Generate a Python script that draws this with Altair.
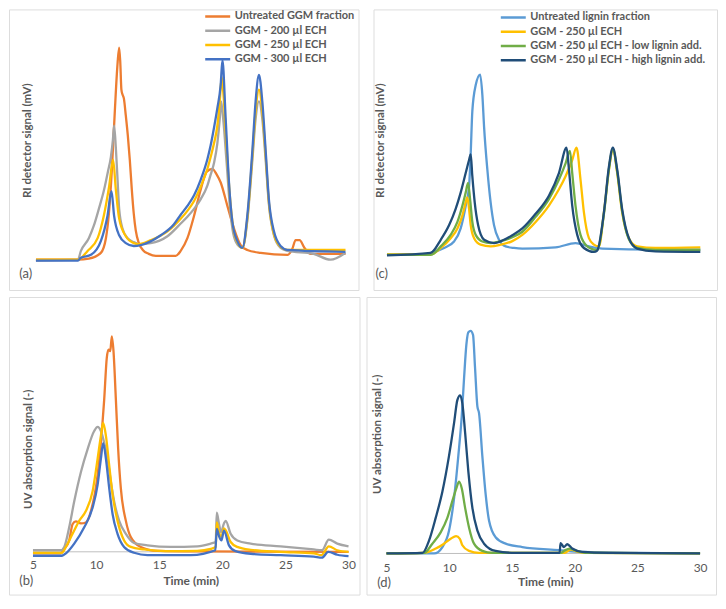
import altair as alt
import pandas as pd

FONT = "Lato"
TXT = "#595959"
BORDER = "#D9D9D9"
AXIS_LINE = "#BFBFBF"

# ---------------- Panel (a): RI signal, GGM series ----------------
a_names = ["Untreated GGM fraction", "GGM - 200 µl ECH", "GGM - 250 µl ECH", "GGM - 300 µl ECH"]
a_colors = ["#ED7D31", "#A5A5A5", "#FFC000", "#4472C4"]

a_orange_t = [5.0, 8.39, 9.27, 10.24, 10.65, 10.89, 11.13, 11.37, 11.57, 11.72, 11.81, 11.90, 11.99, 12.10, 12.26,
              12.42, 12.58, 12.74, 12.90, 13.06, 13.31, 13.63, 14.11, 14.68, 16.29, 16.69, 17.23, 17.77, 18.31, 18.79,
              19.25, 19.60, 19.92, 20.46, 20.99, 21.53, 22.07, 23.15, 25.32, 25.70, 25.97, 26.29, 26.69, 27.18, 30.0]
a_orange_v = [0.5, 0.5, 1, 4, 11.5, 24, 46.5, 76.5, 99, 109, 101.5, 87.5, 85, 83, 74,
              64, 51.5, 36.5, 24, 15.5, 9, 5.5, 3.5, 2.5, 2.5, 5, 11.5, 23, 36.5, 45.5,
              47, 44, 40, 28, 16.5, 8, 5.5, 4, 3, 6, 10.5, 10.5, 6.5, 3.5, 3.5]

a_gray_t = [5.0, 8.39, 8.63, 9.27, 9.68, 10.08, 10.51, 10.81, 11.05, 11.21, 11.31, 11.45, 11.59, 11.72, 11.99,
            12.40, 12.90, 13.31, 14.27, 15.62, 16.69, 17.23, 17.77, 18.31, 18.85, 19.11, 19.38, 19.65, 19.85, 19.95,
            20.13, 20.40, 20.66, 20.93, 21.30, 21.67, 22.07, 22.48, 22.74, 23.01, 23.28, 23.55, 23.81, 24.22, 24.76,
            25.30, 27.42, 28.79, 30.0]
a_gray_v = [0, 0.5, 5, 11.5, 18, 26.5, 36.5, 45.5, 53, 61.5, 69, 58, 41.5, 26.5, 16.5,
            11.5, 9.5, 8.5, 9, 12.5, 19, 22.5, 26.5, 31.5, 38.5, 44, 50, 60, 73, 81.5,
            72, 50, 28, 14, 8, 6.5, 20.5, 51.5, 72.5, 81.5, 72.5, 51.5, 29, 13, 6.5,
            5, 3.5, 0.5, 4]

a_yellow_t = [5.0, 8.39, 9.17, 9.98, 10.48, 10.91, 11.23, 11.45, 11.72, 12.26, 12.90, 13.31, 14.27, 15.62, 16.69,
              17.23, 17.77, 18.31, 18.85, 19.11, 19.38, 19.65, 19.85, 20.0, 20.13, 20.40, 20.66, 20.93, 21.30, 21.67,
              22.07, 22.48, 22.74, 23.01, 23.28, 23.55, 23.81, 24.22, 24.76, 25.30, 30.0]
a_yellow_v = [0.5, 0.5, 5, 11.5, 23, 38, 51.5, 36.5, 21.5, 12.5, 9, 8.5, 10.5, 15, 21.5,
              25.5, 30.5, 38, 47, 53, 60, 69, 82, 94, 86, 58, 33, 17, 9, 6.5,
              21.5, 54, 76.5, 87.5, 76.5, 54, 30, 13.5, 7, 5.5, 5.5]

a_blue_t = [5.0, 8.39, 8.63, 9.44, 10.24, 10.78, 11.10, 11.31, 11.72, 12.26, 12.90, 13.47, 15.08, 16.13, 16.69,
            17.23, 17.77, 18.31, 18.85, 19.11, 19.38, 19.65, 19.92, 20.06, 20.32, 20.59, 20.86, 21.27, 21.67, 22.07,
            22.48, 22.74, 23.01, 23.28, 23.55, 23.81, 24.22, 24.76, 25.30, 30.0]
a_blue_v = [0, 0, 1.5, 3, 10, 23, 35.5, 23, 13, 9, 7.5, 8, 13, 18.5, 23.5,
            28, 33.5, 41.5, 52, 59, 68, 78, 90, 102.5, 73, 40, 20, 10, 6.5, 23,
            56.5, 81.5, 95, 81.5, 56.5, 31.5, 15, 7.5, 5.5, 4.5]

# ---------------- Panel (b): UV signal, GGM series ----------------
b_orange_t = [5.0, 7.2, 7.48, 7.87, 8.14, 8.40, 8.80, 9.19, 9.59, 10.12, 10.38, 10.64, 10.85, 10.99, 11.12,
              11.25, 11.38, 11.57, 11.75, 11.96, 12.36, 12.75, 13.54, 14.87, 18.29, 30.0]
b_orange_v = [-0.8, -0.8, 1.6, 5.8, 14.2, 15.5, 14.5, 15, 20.8, 39.2, 55.8, 77.5, 99.2, 103.3, 102.5,
              110, 102.5, 77.5, 52.5, 32.5, 15.8, 7.5, 2.5, 0.5, 0.2, 0]

b_gray_t = [5.0, 7.2, 7.48, 7.87, 8.27, 8.80, 9.33, 9.85, 10.12, 10.38, 10.64, 10.91, 11.17, 11.43, 11.83,
            12.36, 13.01, 14.07, 15.92, 18.03, 19.08, 19.48, 19.56, 19.74, 19.90, 20.13, 20.27, 20.66, 21.19, 22.25,
            24.62, 27.25, 27.9, 28.44, 29.11, 30.0]
b_gray_v = [0.8, 0.8, 2.5, 12.5, 25.8, 40.8, 52.5, 61.7, 63.8, 61.7, 55.8, 47.5, 35.8, 25.8, 15.8,
            9.2, 4.5, 3.3, 2.5, 2.8, 4.2, 5.0, 20, 14.2, 10, 14.5, 15.8, 9.2, 5.8, 4.2,
            2.8, 1.2, 0.8, 6.2, 4.2, 2.8]

b_yellow_t = [5.0, 7.3, 7.61, 8.14, 8.66, 9.19, 9.72, 10.12, 10.38, 10.56, 10.78, 11.04, 11.31, 11.70, 12.22,
              12.75, 13.81, 15.5, 18.0, 19.08, 19.48, 19.56, 19.74, 19.93, 20.13, 20.27, 20.66, 21.19, 22.25, 24.62,
              27.25, 27.85, 28.44, 29.11, 30.0]
b_yellow_v = [-0.5, -0.5, 2.5, 9.2, 15.8, 20.8, 30.8, 47.5, 59.2, 65.8, 59.2, 44.2, 29.2, 15.8, 5.8,
              2.5, 1.2, 0.3, 0.5, 1.5, 2.5, 15, 10, 7.5, 12, 11, 5, 2.5, 1, 0,
              -0.8, -1.7, 2.8, 0.8, 0]

b_blue_t = [5.0, 7.3, 7.61, 8.27, 9.06, 9.72, 10.12, 10.38, 10.56, 10.78, 11.04, 11.31, 11.70, 12.22, 13.01,
            14.07, 17.5, 19.45, 19.56, 19.74, 19.93, 20.13, 20.53, 21.0, 22.25, 24.62, 27.25, 27.9, 28.4, 29.11, 30.0]
b_blue_v = [-2, -2, -0.8, 4.2, 12.5, 22.5, 34.2, 47.5, 55.5, 47.5, 32.5, 19.2, 9.2, 2.5, -0.5,
            -1.7, -1.7, 0.8, 11.7, 8, 5.8, 10.8, 3.3, 0.5, -1, -1.7, -2.5, -3, 0, -1.5, -2.2]

# ---------------- Panel (c): RI signal, lignin series ----------------
c_names = ["Untreated lignin fraction", "GGM - 250 µl ECH", "GGM - 250 µl ECH - low lignin add.",
           "GGM - 250 µl ECH - high lignin add."]
c_colors = ["#5B9BD5", "#FFC000", "#70AD47", "#204D78"]

c_lblue_t = [5.0, 8.0, 8.49, 9.56, 10.35, 10.88, 11.28, 11.55, 11.68, 11.81, 12.08, 12.43, 12.61, 12.75, 13.01,
             13.27, 13.54, 13.94, 14.47, 15.14, 15.80, 18.45, 20.04, 21.11, 22.17, 26.42, 30.0]
c_lblue_v = [0.2, 0.3, 1, 3.5, 6.8, 13.5, 25, 35, 51.8, 73.5, 86.8, 92.2, 81.8, 65.2, 43.5,
             26.8, 15.2, 7.7, 4.3, 3.5, 3.2, 3.8, 6.0, 4.3, 3.2, 2.7, 2.7]

c_yellow_t = [5.0, 8.49, 9.29, 10.08, 10.62, 11.02, 11.28, 11.41, 11.55, 11.68, 11.95, 12.47, 13.27, 14.07, 15.0,
              15.80, 16.86, 17.92, 18.72, 19.25, 19.78, 20.12, 20.44, 20.71, 21.11, 21.51, 21.91, 22.31, 22.71, 23.02,
              23.37, 23.76, 24.30, 24.96, 26.42, 30.0]
c_yellow_v = [0.2, 0.2, 3.5, 8.5, 13.5, 20.2, 26.8, 29.4, 23.5, 15.2, 8.5, 5.2, 4.3, 5.2, 7,
              10.2, 16.8, 25.2, 33.5, 40.2, 48.5, 54.8, 38.5, 21.8, 8.5, 5.2, 4.3, 21.8, 43.5, 54.3,
              41.8, 21.8, 8.5, 4.3, 3.5, 3.8]

c_green_t = [5.0, 8.49, 9.29, 10.08, 10.62, 11.02, 11.28, 11.47, 11.63, 11.81, 12.08, 12.61, 13.27, 14.07, 15.0,
             15.80, 16.86, 17.92, 18.72, 19.25, 19.60, 19.78, 20.04, 20.44, 20.98, 21.51, 21.77, 22.31, 22.71, 23.02,
             23.37, 23.76, 24.30, 24.96, 26.42, 30.0]
c_green_v = [0, 0, 4.3, 10.2, 16.8, 25.2, 31.8, 36.8, 28.5, 16.8, 10.2, 6.8, 6.0, 7.0, 9.0,
             11.8, 19.4, 28.5, 38.5, 46.8, 53.2, 41.8, 25.2, 10.2, 4.3, 2.7, 2.5, 21, 44, 54,
             42.5, 22.5, 8, 3.5, 2.5, 2.5]

c_dblue_t = [5.0, 8.49, 9.29, 9.96, 10.48, 10.88, 11.28, 11.55, 11.68, 11.81, 12.0, 12.27, 12.75, 13.54, 14.34,
             15.0, 15.80, 16.86, 17.92, 18.72, 19.33, 19.52, 19.78, 20.18, 20.71, 21.51, 21.77, 22.31, 22.71, 23.02,
             23.37, 23.76, 24.30, 24.96, 26.42, 30.0]
c_dblue_v = [-0.3, 1, 7.7, 15.2, 23.5, 31.8, 41.8, 48.5, 51.3, 40.2, 26.8, 15.2, 7.7, 6.0, 7.7,
             10, 13.5, 21, 30.2, 41.8, 54.8, 43.5, 25.2, 10.2, 3.5, 1.5, 2.2, 21.8, 45.2, 54.8,
             43.5, 23.5, 8.5, 3.2, 1.8, 1.5]

# ---------------- Panel (d): UV signal, lignin series ----------------
d_lblue_t = [5.0, 8.8, 9.46, 9.99, 10.39, 10.73, 11.0, 11.19, 11.37, 11.53, 11.71, 11.90, 12.06, 12.25, 12.38,
             12.64, 12.91, 13.18, 13.70, 14.50, 15.83, 18.75, 20.5, 30.0]
d_lblue_v = [0, 0, 3.3, 11.7, 28.3, 50, 70, 90, 106.7, 113, 113.7, 111.7, 95, 75, 71.7,
             50, 30, 16.7, 8.3, 5, 3.3, 1.7, 0.8, 0]

d_yellow_t = [5.0, 8.0, 8.93, 9.59, 10.12, 10.55, 10.85, 11.05, 11.58, 12.38, 19.2, 19.7, 20.2, 21.0, 30.0]
d_yellow_v = [0, 0.3, 2.5, 5, 7.5, 8.9, 7.5, 4.2, 1.3, 0.3, 0.3, 2, 1, 0.3, 0]

d_green_t = [5.0, 8.0, 8.66, 9.32, 9.86, 10.25, 10.57, 10.79, 11.0, 11.27, 11.58, 11.98, 12.64, 13.44, 18.9,
             19.2, 19.6, 20.0, 21.0, 30.0]
d_green_v = [0, 0.3, 5, 10.8, 18.3, 26.7, 33.3, 36.7, 33.3, 23.3, 13.3, 5, 1.3, 0.3, 0.3,
             1.5, 2.5, 1.7, 0.3, 0]

d_dblue_t = [5.0, 7.87, 8.40, 8.93, 9.46, 9.99, 10.39, 10.65, 10.87, 11.05, 11.27, 11.53, 11.85, 12.25, 12.78,
             13.70, 15.29, 18.80, 18.88, 19.15, 19.41, 19.81, 20.61, 22.73, 30.0]
d_dblue_v = [0, 0.3, 6.7, 18.3, 31.7, 50, 66.7, 78.3, 80.8, 76.7, 61.7, 41.7, 23.3, 11.7, 5,
             1.3, 0.3, 0.3, 5.3, 3.3, 4.7, 2.5, 0.8, 0.3, 0]

time_ticks = [5, 10, 15, 20, 25, 30]


def make_panel(names, colors, series, xdom, ydom, w, h, ytitle, ytx, yty,
               legend_xy=None, label="", label_dx=0, label_off=0, xaxis=None, baseline=False):
    xs = alt.Scale(domain=xdom, nice=False, zero=False)
    ys = alt.Scale(domain=ydom, nice=False, zero=False)
    yaxis = alt.Axis(title=ytitle, labels=False, ticks=False, domain=False, grid=False,
                     titleX=ytx, titleY=yty, titleAngle=-90, titleBaseline="middle", titleAlign="center",
                     titleFont=FONT, titleFontSize=11.5, titleFontWeight="bold", titleColor=TXT,
                     minExtent=0, maxExtent=0)
    if legend_xy is None:
        leg = None
    else:
        leg = alt.Legend(orient="none", legendX=legend_xy[0], legendY=legend_xy[1], title=None, offset=0,
                         symbolType="stroke", symbolSize=625, symbolStrokeWidth=2.5, clipHeight=14,
                         rowPadding=0.3, labelFont=FONT, labelFontSize=11, labelFontWeight="bold",
                         labelColor=TXT, labelOffset=3, padding=0, labelLimit=250)
    cscale = alt.Scale(domain=names, range=colors)
    layers = []
    if baseline:
        base = pd.DataFrame({"t": [5.0], "t2": [30.0], "v": [0.0]})
        layers.append(alt.Chart(base).mark_rule(color=AXIS_LINE, strokeWidth=1).encode(
            x=alt.X("t:Q", scale=xs, axis=xaxis), x2="t2:Q",
            y=alt.Y("v:Q", scale=ys, axis=yaxis)))
    for name, (ts, vs) in zip(names, series):
        df = pd.DataFrame({"t": ts, "v": vs, "s": name})
        layers.append(alt.Chart(df).mark_line(strokeWidth=2.3, interpolate="monotone").encode(
            x=alt.X("t:Q", scale=xs, axis=xaxis),
            y=alt.Y("v:Q", scale=ys, axis=yaxis),
            color=alt.Color("s:N", scale=cscale, legend=leg)))
    return alt.layer(*layers).properties(
        width=w, height=h,
        title=alt.TitleParams(text=label, orient="bottom", anchor="start", frame="group",
                              offset=label_off, dx=label_dx, font=FONT, fontSize=13,
                              fontWeight="normal", color=TXT))


def time_axis(offset, lpad, tx, ty):
    return alt.Axis(values=time_ticks, format="d", ticks=False, tickSize=0, domain=False, grid=False,
                    offset=offset, labelPadding=lpad, labelFont=FONT, labelFontSize=12, labelColor=TXT,
                    labelFlush=False, labelOverlap=False,
                    title="Time (min)", titleX=tx, titleY=ty, titleBaseline="middle", titleAlign="center",
                    titleFont=FONT, titleFontSize=12, titleFontWeight="bold", titleColor=TXT)


pa = make_panel(a_names, a_colors,
                [(a_orange_t, a_orange_v), (a_gray_t, a_gray_v), (a_yellow_t, a_yellow_v), (a_blue_t, a_blue_v)],
                [2.823, 31.05], [-15, 128.5], 350, 281, "RI detector signal (mV)", 18.7, 131,
                legend_xy=(195, 0), label="(a)", label_dx=10.3, label_off=-22)

pc = make_panel(c_names, c_colors,
                [(c_lblue_t, c_lblue_v), (c_yellow_t, c_yellow_v), (c_green_t, c_green_v), (c_dblue_t, c_dblue_v)],
                [3.924, 31.33], [-18, 125.5], 344, 281, "RI detector signal (mV)", 6.7, 131,
                legend_xy=(126, 1), label="(c)", label_dx=2, label_off=-22)

pb = make_panel(a_names, a_colors,
                [(b_orange_t, b_orange_v), (b_gray_t, b_gray_v), (b_yellow_t, b_yellow_v), (b_blue_t, b_blue_v)],
                [3.101, 30.87], [-21.85, 130.15], 351, 298, "UV absorption signal (-)", 19.5, 152,
                label="(b)", label_dx=10.3, label_off=-20,
                xaxis=time_axis(-42.8, 8, 182, 29), baseline=True)

pd_ = make_panel(c_names, c_colors,
                 [(d_lblue_t, d_lblue_v), (d_yellow_t, d_yellow_v), (d_green_t, d_green_v), (d_dblue_t, d_dblue_v)],
                 [3.408, 31.27], [-21, 131], 350, 298, "UV absorption signal (-)", 11.5, 137,
                 label="(d)", label_dx=10.7, label_off=-18,
                 xaxis=time_axis(-41.2, 9, 179, 28.5), baseline=True)

top = (alt.hconcat(pa, pc, spacing=13)
       .resolve_scale(color="independent").resolve_legend(color="independent"))
bottom = (alt.hconcat(pb, pd_, spacing=5)
          .resolve_scale(color="independent").resolve_legend(color="independent"))

chart = (alt.vconcat(top, bottom, spacing=5)
         .resolve_scale(color="independent").resolve_legend(color="independent")
         .properties(padding=0)
         .configure_view(stroke=BORDER, strokeWidth=1)
         .configure(font=FONT))

chart.save("out.html", embed_options={"renderer": "svg", "actions": False})
